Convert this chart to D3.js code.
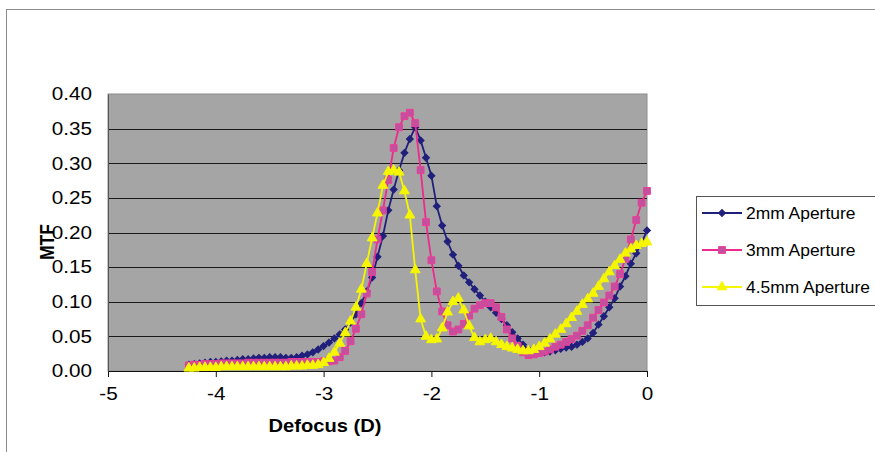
<!DOCTYPE html>
<html><head><meta charset="utf-8">
<script src="https://cdn.jsdelivr.net/npm/d3@7/dist/d3.min.js"></script>
<style>body{margin:0;background:#fff}svg{display:block}</style>
</head><body><svg id="c" width="875" height="452"></svg>
<script>
const defocus = [-4.25,-4.20,-4.15,-4.10,-4.05,-4.00,-3.95,-3.90,-3.85,-3.80,-3.75,-3.70,-3.65,-3.60,-3.55,-3.50,-3.45,-3.40,-3.35,-3.30,-3.25,-3.20,-3.15,-3.10,-3.05,
  -3.00,-2.95,-2.90,-2.85,-2.80,-2.75,-2.70,-2.65,-2.60,-2.55,
  -2.50,-2.45,-2.40,-2.35,-2.30,-2.25,-2.20,-2.15,-2.10,-2.05,
  -2.00,-1.95,-1.90,-1.85,-1.80,-1.75,-1.70,-1.65,-1.60,-1.55,
  -1.50,-1.45,-1.40,-1.35,-1.30,-1.25,-1.20,-1.15,-1.10,-1.05,
  -1.00,-0.95,-0.90,-0.85,-0.80,-0.75,-0.70,-0.65,-0.60,-0.55,
  -0.50,-0.45,-0.40,-0.35,-0.30,-0.25,-0.20,-0.15,-0.10,-0.05,0.00];
const mtf2mm = [0.009,0.010,0.011,0.012,0.013,0.013,0.014,0.015,0.015,0.016,0.017,0.017,0.018,0.019,0.019,0.020,0.020,0.020,0.019,0.019,0.020,0.022,0.024,0.027,0.031,
  0.036,0.041,0.047,0.053,0.060,0.070,0.082,0.098,0.115,0.135,
  0.165,0.195,0.232,0.262,0.290,0.315,0.335,0.352,0.333,0.308,
  0.282,0.238,0.210,0.187,0.168,0.152,0.138,0.128,0.118,0.109,
  0.100,0.092,0.084,0.075,0.066,0.056,0.047,0.038,0.031,0.028,
  0.027,0.027,0.028,0.030,0.032,0.034,0.035,0.038,0.042,0.047,
  0.055,0.067,0.079,0.092,0.105,0.122,0.137,0.155,0.170,0.185,0.203];
const mtf3mm = [0.008,0.009,0.009,0.010,0.010,0.010,0.011,0.011,0.011,0.011,0.011,0.012,0.012,0.012,0.012,0.012,0.012,0.012,0.012,0.013,0.013,0.013,0.013,0.013,0.013,
  0.014,0.014,0.015,0.020,0.029,0.043,0.061,0.082,0.112,0.143,
  0.190,0.232,0.276,0.322,0.352,0.368,0.373,0.358,0.290,0.215,
  0.160,0.115,0.086,0.066,0.057,0.060,0.068,0.080,0.090,0.095,
  0.098,0.098,0.092,0.078,0.060,0.047,0.036,0.027,0.023,0.024,
  0.026,0.028,0.031,0.035,0.038,0.042,0.046,0.051,0.058,0.066,
  0.077,0.088,0.099,0.109,0.122,0.140,0.162,0.190,0.218,0.243,0.260];
const mtf45mm = [0.004,0.004,0.005,0.005,0.005,0.005,0.006,0.006,0.006,0.006,0.006,0.006,0.006,0.006,0.006,0.006,0.006,0.006,0.006,0.007,0.007,0.007,0.008,0.008,0.009,
  0.012,0.018,0.027,0.040,0.055,0.072,0.092,0.118,0.155,0.192,
  0.228,0.268,0.288,0.290,0.287,0.260,0.225,0.146,0.075,0.050,
  0.045,0.046,0.062,0.085,0.100,0.105,0.088,0.065,0.048,0.042,
  0.045,0.047,0.042,0.038,0.035,0.033,0.031,0.029,0.029,0.031,
  0.035,0.040,0.046,0.053,0.060,0.068,0.077,0.086,0.096,0.104,
  0.112,0.122,0.133,0.143,0.152,0.161,0.170,0.176,0.181,0.184,0.186];
const seriesNames = ["2mm Aperture","3mm Aperture","4.5mm Aperture"];
const xTicks = [-5,-4,-3,-2,-1,0];
const xTickLabels = ["-5","-4","-3","-2","-1","0"];
const yTicks = [0,0.05,0.10,0.15,0.20,0.25,0.30,0.35,0.40];
const xTitle = "Defocus (D)";
const yTitle = "MTF";

const svg = d3.select("#c");
const FONT = "'Liberation Sans', Arial, sans-serif";
const SX = 1.15;
const L = 108, R = 647, T = 94, B = 371;
const x = d3.scaleLinear().domain([-5, 0]).range([L, R]);
const y = d3.scaleLinear().domain([0, 0.40]).range([B, T]);

// outer frame
svg.append("rect").attr("x", 6.5).attr("y", 9.5).attr("width", 1000).attr("height", 600)
  .attr("fill", "none").attr("stroke", "#8a8a8a").attr("stroke-width", 1);

// plot area
svg.append("rect").attr("x", L).attr("y", T).attr("width", R - L).attr("height", B - T)
  .attr("fill", "#a5a5a5").attr("stroke", "#8c8c8c").attr("stroke-width", 1);

// gridlines
svg.append("g").selectAll("line").data(yTicks.filter(v => v > 0 && v < 0.40)).join("line")
  .attr("x1", L).attr("x2", R).attr("y1", d => Math.round(y(d)) + 0.5).attr("y2", d => Math.round(y(d)) + 0.5)
  .attr("stroke", "#1a1a1a").attr("stroke-width", 1);

// x axis
const gx = svg.append("g").attr("transform", `translate(0,${B})`)
  .call(d3.axisBottom(x).tickValues(xTicks).tickSize(6).tickPadding(10)
    .tickFormat((d, i) => xTickLabels[i]));
gx.select(".domain").attr("stroke", "#111");
gx.selectAll(".tick line").attr("stroke", "#111");
gx.selectAll("text").attr("font-family", FONT).attr("font-size", 18).attr("fill", "#000")
  .attr("transform", `scale(${SX},1)`);

// y axis
const gy = svg.append("g").attr("transform", `translate(${L},0)`)
  .call(d3.axisLeft(y).tickValues(yTicks).tickSize(0).tickPadding(14).tickFormat(d3.format(".2f")));
gy.select(".domain").attr("stroke", "#555");
gy.selectAll("text").attr("font-family", FONT).attr("font-size", 18).attr("fill", "#000")
  .attr("transform", `scale(${SX},1)`);

// axis titles
svg.append("text").attr("transform", `translate(325,432) scale(${SX},1)`)
  .attr("text-anchor", "middle").attr("font-family", FONT).attr("font-weight", "bold")
  .attr("font-size", 17.5).text(xTitle);
svg.append("text").attr("transform", `translate(54,242) scale(${SX},1) rotate(-90)`)
  .attr("text-anchor", "middle").attr("font-family", FONT).attr("font-weight", "bold")
  .attr("font-size", 17.5).text(yTitle);

const styles = [
  {line: "#20207c", fill: "#20207c", stroke: "#20207c", sym: d3.symbolSquare, size: 24, rot: 45, w: 1.8},
  {line: "#ee2a8c", fill: "#c2509e", stroke: "#ee3c98", sym: d3.symbolSquare, size: 46, rot: 0, w: 1.8},
  {line: "#f6f600", fill: "#f6f600", stroke: "#f6f600", sym: d3.symbolTriangle, size: 42, rot: 0, w: 1.8}
];
const allSeries = [mtf2mm, mtf3mm, mtf45mm];

const line = d3.line().x(d => x(d[0])).y(d => y(d[1]));
allSeries.forEach((vals, i) => {
  const st = styles[i];
  const pts = defocus.map((d, j) => [d, vals[j]]);
  const g = svg.append("g");
  g.append("path").datum(pts).attr("d", line).attr("fill", "none")
    .attr("stroke", st.line).attr("stroke-width", st.w);
  const sym = d3.symbol().type(st.sym).size(st.size);
  g.selectAll("path.m").data(pts).join("path").attr("class", "m")
    .attr("d", sym)
    .attr("transform", d => `translate(${x(d[0])},${y(d[1])}) rotate(${st.rot})`)
    .attr("fill", st.fill).attr("stroke", st.stroke).attr("stroke-width", 1);
});

// legend
const lg = svg.append("g");
lg.append("rect").attr("x", 696.5).attr("y", 196.5).attr("width", 400).attr("height", 109)
  .attr("fill", "#fff").attr("stroke", "#555").attr("stroke-width", 1);
const legY = [213, 250, 287];
seriesNames.forEach((name, i) => {
  const st = styles[i];
  const yy = legY[i];
  lg.append("line").attr("x1", 702).attr("x2", 742).attr("y1", yy).attr("y2", yy)
    .attr("stroke", st.line).attr("stroke-width", st.w);
  lg.append("path").attr("d", d3.symbol().type(st.sym).size(st.size)())
    .attr("transform", `translate(722,${yy}) rotate(${st.rot})`)
    .attr("fill", st.fill).attr("stroke", st.stroke).attr("stroke-width", 1);
  lg.append("text").attr("transform", `translate(746,${yy + 5.5}) scale(1.09,1)`)
    .attr("font-family", FONT).attr("font-size", 16).text(name);
});
</script></body></html>
